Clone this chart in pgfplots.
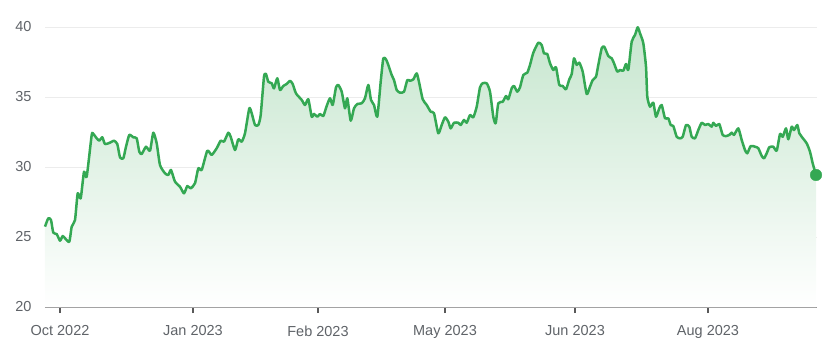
\documentclass[border=0pt]{standalone}
\usepackage{pgfplots}
\pgfplotsset{compat=1.18}
\usepackage{pgfplotstable}
\usepackage{fontspec}
\setmainfont{Liberation Sans}
\definecolor{lineG}{RGB}{52,168,83}
\definecolor{fillTop}{RGB}{198,230,206}
\definecolor{txt}{RGB}{95,99,104}
\definecolor{gridc}{RGB}{236,236,236}
\definecolor{axc}{RGB}{150,150,150}
\pgfplotstableread{
x y
45 25.74
48.3 26.34
51 26.21
53.3 25.31
56.7 25.21
60 24.74
62.7 25.07
65 24.91
69.3 24.66
71.7 25.74
75 26.21
77.7 28.12
80.7 27.76
84 29.66
86.7 29.31
91.7 32.29
93.3 32.36
96.7 32.05
99.3 31.88
102.3 32.12
105 31.64
110 31.74
114 31.88
117.3 31.64
120 30.69
123.3 30.62
126 31.45
129.3 32.29
133.3 32.12
136.7 32.05
139.3 31.09
141.7 30.93
146 31.45
150 31.16
153.3 32.45
156.7 31.69
160 30.14
165 29.55
168.3 29.43
171 29.79
175 28.95
180 28.59
184 28.12
187.3 28.64
190.7 28.48
195 28.84
198.3 29.91
201.7 29.79
207.3 31.16
211.7 30.86
216.7 31.34
220.7 31.88
224 31.81
228.3 32.45
230.7 32.16
235 31.21
238.3 31.98
241.7 31.81
245 32.41
249.3 34.19
251.7 33.84
255 33.0
258.3 33.0
260.7 33.71
264 36.45
266 36.64
268.3 36.09
271.7 35.98
274 35.62
277.3 36.34
280 35.5
283.3 35.79
286.7 35.93
290 36.16
292.7 35.93
296 35.26
301.7 34.79
305 34.43
308.3 34.84
311.7 33.59
314 33.79
317.3 33.59
320 33.79
323.3 33.64
326.7 34.36
330 34.91
332.7 34.43
336 35.69
338.3 35.86
341.7 35.38
345 34.19
347.3 34.91
350.7 33.31
354 34.19
357.3 34.5
361.7 34.55
365 34.91
368.3 35.86
371 34.79
374 34.43
377.3 33.59
380.7 36.09
383.3 37.76
386 37.69
388.3 37.29
391.7 36.57
394 36.21
396.7 35.5
400 35.31
404 35.38
407.3 36.21
410 36.16
413.3 36.26
416.7 36.69
419.3 35.98
422.7 34.84
426.7 34.43
430.7 33.95
434 33.84
438.3 32.41
441.7 33.0
445 33.55
448.3 33.24
450.7 32.76
454 33.16
458.3 33.16
460.7 33.0
464 33.36
466.7 33.16
470 33.71
473.3 33.55
476.7 34.31
480 35.69
482.7 35.98
486.7 35.98
490 35.38
493.3 33.59
495.7 33.12
498.3 34.55
502.7 34.66
506 35.07
508.3 34.84
511.7 35.62
514 35.79
517.3 35.38
520 35.69
523.3 36.57
527.3 36.74
530 37.29
533.3 38.16
538.3 38.88
541.7 38.71
544 38.12
547.3 38.07
550 37.41
553.3 36.93
556 37.12
559.3 35.86
562.7 35.79
566 35.55
569.3 36.26
571.7 36.64
574 37.76
576.7 37.29
579.3 37.45
582.7 36.81
586.7 35.21
590 35.74
592.7 36.21
596 36.45
598.3 37.29
601.7 38.48
604.3 38.59
608.3 37.93
611.7 37.76
614 37.41
617.3 36.81
620 36.93
623.3 36.88
626 37.36
628.3 36.93
631.7 38.95
635 39.43
637.7 39.98
640 39.55
643.3 38.84
646 37.16
647.3 35.02
650 34.31
653.3 34.59
656 33.59
659.3 34.19
661.7 34.43
665 33.48
668.3 33.48
670.7 33.0
673.3 32.93
676.7 32.16
680 32.05
682.7 32.16
686 33.0
689.3 32.88
691.7 32.16
695 32.05
698.3 32.64
701.7 33.16
705 33.0
708.3 33.07
711.7 32.88
713.3 33.16
716 32.93
719.3 33.07
722.7 32.29
726 32.21
729.3 32.29
731.7 32.45
734 32.29
738.3 32.76
741.7 31.93
745 31.21
747.3 30.98
750.7 31.5
755 31.45
758.3 31.34
761.7 30.79
764 30.62
766.7 30.98
769.3 31.41
773.3 31.45
776.7 31.16
780 32.36
782.7 32.16
786 32.76
788.3 31.98
791.7 32.88
794 32.64
797.3 33.0
799.3 32.41
801.7 32.16
806.7 31.69
810 31.09
812.7 30.26
816 29.43
}\datatable
\begin{document}
\begin{tikzpicture}
\path[use as bounding box] (-45pt,-47pt) rectangle (784pt,307pt);
\begin{axis}[
  at={(0pt,0pt)}, anchor=south west,
  scale only axis,
  width=772pt, height=280pt,
  xmin=45, xmax=817,
  ymin=20, ymax=40,
  clip=false,
  axis x line=bottom,
  axis y line=left,
  x axis line style={-, draw=axc, line width=1pt},
  y axis line style={draw=none},
  ytick={20,25,30,35,40},
  ytick style={draw=none},
  ymajorgrids,
  grid style={draw=gridc, line width=0.8pt},
  xtick={60,193,318,445,575,708},
  xticklabels={Oct 2022,Jan 2023,Feb 2023,May 2023,Jun 2023,Aug 2023},
  tick align=outside,
  major tick length=6pt,
  xtick style={draw=black!65, line width=1.6pt},
  tick label style={font=\fontsize{14.5}{16}\selectfont, text=txt},
  /pgf/number format/assume math mode=true,
  yticklabel style={xshift=-4pt},
  xticklabel style={yshift=-9pt},
]
\addplot[draw=none, top color=fillTop, bottom color=white, smooth, tension=0.35] table[x=x,y=y] {\datatable} -- (axis cs:816,20) -- (axis cs:45,20) -- cycle;
\addplot[lineG, line width=2.5pt, line join=round, smooth, tension=0.35] table[x=x,y=y] {\datatable};
\addplot[only marks, mark=*, mark size=5.8pt, color=lineG] coordinates {(816,29.43)};
\end{axis}
\end{tikzpicture}
\end{document}
